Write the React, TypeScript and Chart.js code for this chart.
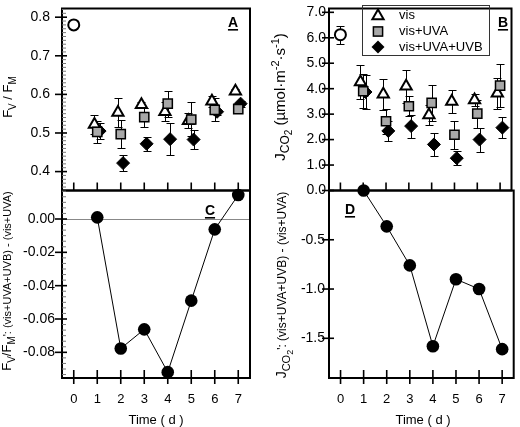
import React, { useEffect, useRef } from "react";
import { Chart, registerables } from "chart.js";

Chart.register(...registerables);

const W = 520;
const H = 427;
const FONT = "'Liberation Sans', Arial, Helvetica, sans-serif";

// ---------- data ----------
const days = [1, 2, 3, 4, 5, 6, 7];
const controlDay = [0];
const tickDays = [0, 1, 2, 3, 4, 5, 6, 7];
const VIS_SHIFT = -0.12;
const UVA_SHIFT = 0;
const UVB_SHIFT = 0.1;

const fvfmControl = [0.78];
const fvfmVis = [0.522, 0.553, 0.573, 0.555, 0.532, 0.582, 0.608];
const fvfmVisErr = [0.025, 0.038, 0.008, 0.025, 0.02, 0.015, 0.006];
const fvfmUva = [0.503, 0.497, 0.541, 0.576, 0.535, 0.56, 0.562];
const fvfmUvaErr = [0.028, 0.036, 0.025, 0.034, 0.044, 0.03, 0.008];
const fvfmUvb = [0.505, 0.422, 0.472, 0.484, 0.483, 0.555, 0.576];
const fvfmUvbErr = [0.02, 0.02, 0.018, 0.042, 0.025, 0.008, 0.008];
const fvfmDiff = [0.001, -0.0777, -0.0662, -0.0919, -0.049, -0.0062, 0.0144];

const jControl = [6.12];
const jControlErr = [0.36];
const jVis = [4.26, 3.78, 4.1, 2.97, 3.5, 3.56, 3.82];
const jVisErr = [0.68, 0.6, 0.65, 0.4, 0.45, 0.25, 0.6];
const jUva = [3.9, 2.72, 3.31, 3.44, 2.19, 3.02, 4.12];
const jUvaErr = [0.67, 0.5, 0.4, 0.72, 0.55, 0.55, 0.85];
const jUvb = [3.87, 2.34, 2.53, 1.81, 1.27, 2.0, 2.47];
const jUvbErr = [0.65, 0.38, 0.45, 0.46, 0.28, 0.47, 0.4];
const jDiff = [0.0, -0.364, -0.76, -1.58, -0.9, -1.0, -1.61];

const fvfmTicks = [0.4, 0.5, 0.6, 0.7, 0.8];
const fvfmDiffTicks = [-0.08, -0.06, -0.04, -0.02, 0.0];
const jTicks = [0, 1, 2, 3, 4, 5, 6, 7];
const jDiffTicks = [-1.5, -1.0, -0.5];

const legendLabels = ["vis", "vis+UVA", "vis+UVA+UVB"];

// ---------- helpers ----------
type Part = { t: string; size: number; dy?: number };
type Title = { parts: Part[]; x: number; y: number };

const pts = (xs: number[], ys: number[], shift = 0) =>
  xs.map((d, i) => ({ x: d + shift, y: ys[i] }));

function drawRich(ctx: CanvasRenderingContext2D, title: Title) {
  ctx.save();
  ctx.translate(title.x, title.y);
  ctx.rotate(-Math.PI / 2);
  ctx.fillStyle = "#000";
  ctx.textBaseline = "alphabetic";
  ctx.textAlign = "left";
  let total = 0;
  const ws = title.parts.map((p) => {
    ctx.font = `${p.size}px ${FONT}`;
    const w = ctx.measureText(p.t).width;
    total += w;
    return w;
  });
  let x = -total / 2;
  title.parts.forEach((p, i) => {
    ctx.font = `${p.size}px ${FONT}`;
    ctx.fillText(p.t, x, p.dy || 0);
    x += ws[i];
  });
  ctx.restore();
}

function triPath(ctx: CanvasRenderingContext2D, x: number, y: number, r: number) {
  ctx.beginPath();
  ctx.moveTo(x, y - r);
  ctx.lineTo(x + r * Math.sin((2 * Math.PI) / 3), y - r * Math.cos((2 * Math.PI) / 3));
  ctx.lineTo(x - r * Math.sin((2 * Math.PI) / 3), y - r * Math.cos((2 * Math.PI) / 3));
  ctx.closePath();
}

interface PanelCfg {
  id: string;
  left: number;
  top: number;
  right: number;
  bottom: number;
  yMin: number;
  yMax: number;
  yMajor: number[];
  yDec: number;
  yMinorStep?: number;
  yLabelPad: number;
  showXLabels: boolean;
  xTickUp: number;
  xTickDown: number;
  letter: string;
  letterX: number;
  letterY: number;
  zeroLine?: boolean;
  titles: Title[];
  xTitle?: { x: number; y: number };
  legend?: boolean;
  datasets: any[];
}

function makePlugin(cfg: PanelCfg) {
  return {
    id: "panel_" + cfg.id,
    beforeDatasetsDraw(chart: any) {
      const ctx: CanvasRenderingContext2D = chart.ctx;
      const xs = chart.scales.x;
      const ys = chart.scales.y;
      const a = chart.chartArea;
      ctx.save();
      if (cfg.zeroLine) {
        const y0 = Math.round(ys.getPixelForValue(0)) + 0.5;
        ctx.strokeStyle = "#888";
        ctx.lineWidth = 1;
        ctx.beginPath();
        ctx.moveTo(a.left, y0);
        ctx.lineTo(a.right, y0);
        ctx.stroke();
      }
      ctx.strokeStyle = "#000";
      ctx.lineWidth = 2;
      ctx.strokeRect(a.left, a.top, a.right - a.left, a.bottom - a.top);
      ctx.lineWidth = 1.6;
      cfg.yMajor.forEach((v) => {
        const y = ys.getPixelForValue(v);
        ctx.beginPath();
        ctx.moveTo(a.left - 7, y);
        ctx.lineTo(a.left + 5, y);
        ctx.stroke();
      });
      if (cfg.yMinorStep) {
        ctx.strokeStyle = "#777";
        ctx.lineWidth = 1;
        const step = cfg.yMinorStep;
        const start = Math.ceil(cfg.yMin / step);
        const end = Math.floor(cfg.yMax / step);
        for (let k = start; k <= end; k++) {
          const v = k * step;
          if (cfg.yMajor.some((m) => Math.abs(m - v) < step / 3)) continue;
          const y = ys.getPixelForValue(v);
          ctx.beginPath();
          ctx.moveTo(a.left, y);
          ctx.lineTo(a.left + 4, y);
          ctx.stroke();
        }
      }
      ctx.strokeStyle = "#000";
      ctx.lineWidth = 1.6;
      tickDays.forEach((d) => {
        const x = xs.getPixelForValue(d);
        ctx.beginPath();
        ctx.moveTo(x, a.bottom - cfg.xTickUp);
        ctx.lineTo(x, a.bottom + cfg.xTickDown);
        ctx.stroke();
      });
      ctx.strokeStyle = "#000";
      ctx.lineWidth = 1;
      chart.data.datasets.forEach((ds: any) => {
        const errs: number[] | undefined = ds.errors;
        if (!errs) return;
        ds.data.forEach((p: any, i: number) => {
          const e = errs[i];
          if (!e) return;
          const px = Math.round(xs.getPixelForValue(p.x)) + 0.5;
          const y1 = Math.round(ys.getPixelForValue(p.y + e)) + 0.5;
          const y2 = Math.round(ys.getPixelForValue(p.y - e)) + 0.5;
          ctx.beginPath();
          ctx.moveTo(px, y1);
          ctx.lineTo(px, y2);
          ctx.moveTo(px - 4, y1);
          ctx.lineTo(px + 4, y1);
          ctx.moveTo(px - 4, y2);
          ctx.lineTo(px + 4, y2);
          ctx.stroke();
        });
      });
      ctx.restore();
    },
    afterDraw(chart: any) {
      const ctx: CanvasRenderingContext2D = chart.ctx;
      ctx.save();
      ctx.font = `bold 14px ${FONT}`;
      ctx.fillStyle = "#000";
      ctx.textAlign = "center";
      ctx.textBaseline = "alphabetic";
      ctx.fillText(cfg.letter, cfg.letterX, cfg.letterY);
      const lw = ctx.measureText(cfg.letter).width;
      ctx.fillRect(cfg.letterX - lw / 2, cfg.letterY + 2, lw, 1.6);
      cfg.titles.forEach((t) => drawRich(ctx, t));
      if (cfg.xTitle) {
        ctx.font = `13px ${FONT}`;
        ctx.textAlign = "center";
        ctx.textBaseline = "middle";
        ctx.fillText("Time ( d )", cfg.xTitle.x, cfg.xTitle.y);
      }
      if (cfg.legend) {
        ctx.strokeStyle = "#333";
        ctx.lineWidth = 1;
        ctx.strokeRect(362.5, 5.5, 127, 50);
        const mx = 378;
        const rows = [16, 31.5, 47];
        triPath(ctx, mx, rows[0], 6.5);
        ctx.fillStyle = "#fff";
        ctx.fill();
        ctx.lineWidth = 2;
        ctx.strokeStyle = "#000";
        ctx.stroke();
        const s = 6.5 * Math.SQRT1_2;
        ctx.fillStyle = "#a8a8a8";
        ctx.fillRect(mx - s, rows[1] - s, 2 * s, 2 * s);
        ctx.lineWidth = 1.5;
        ctx.strokeRect(mx - s, rows[1] - s, 2 * s, 2 * s);
        ctx.beginPath();
        ctx.moveTo(mx - 6.5, rows[2]);
        ctx.lineTo(mx, rows[2] - 6.5);
        ctx.lineTo(mx + 6.5, rows[2]);
        ctx.lineTo(mx, rows[2] + 6.5);
        ctx.closePath();
        ctx.fillStyle = "#000";
        ctx.fill();
        ctx.font = `13px ${FONT}`;
        ctx.textAlign = "left";
        ctx.textBaseline = "middle";
        const textRows = [15.5, 31.5, 47];
        legendLabels.forEach((l, i) => ctx.fillText(l, 399, textRows[i]));
      }
      ctx.restore();
    },
  };
}

function buildConfig(cfg: PanelCfg): any {
  const Wy = 50;
  const Hx = 40;
  const zeroPad = (s: any) => {
    s.paddingLeft = 0;
    s.paddingRight = 0;
    s.paddingTop = 0;
    s.paddingBottom = 0;
  };
  return {
    type: "scatter",
    data: { datasets: cfg.datasets },
    options: {
      responsive: false,
      animation: false,
      devicePixelRatio: 1,
      events: [],
      layout: {
        padding: {
          left: cfg.left - Wy,
          top: cfg.top,
          right: W - cfg.right,
          bottom: H - cfg.bottom - Hx,
        },
      },
      plugins: { legend: { display: false }, tooltip: { enabled: false } },
      scales: {
        x: {
          type: "linear",
          position: "bottom",
          min: -0.5,
          max: 7.5,
          grid: { display: false, drawTicks: false },
          border: { display: false },
          ticks: {
            display: cfg.showXLabels,
            padding: 14,
            color: "#000",
            font: { family: FONT, size: 13 },
            autoSkip: false,
            maxRotation: 0,
            callback: (v: any) => String(v),
          },
          afterBuildTicks: (s: any) => {
            s.ticks = tickDays.map((v) => ({ value: v }));
          },
          afterFit: (s: any) => {
            s.height = Hx;
            zeroPad(s);
          },
        },
        y: {
          type: "linear",
          position: "left",
          min: cfg.yMin,
          max: cfg.yMax,
          grid: { display: false, drawTicks: false },
          border: { display: false },
          ticks: {
            padding: cfg.yLabelPad,
            color: "#000",
            font: { family: FONT, size: 14 },
            callback: (v: any) => Number(v).toFixed(cfg.yDec),
          },
          afterBuildTicks: (s: any) => {
            s.ticks = cfg.yMajor.map((v) => ({ value: v }));
          },
          afterFit: (s: any) => {
            s.width = Wy;
            zeroPad(s);
          },
        },
      },
    },
    plugins: [makePlugin(cfg)],
  };
}

function Panel({ cfg }: { cfg: PanelCfg }) {
  const ref = useRef<HTMLCanvasElement>(null);
  useEffect(() => {
    const chart = new Chart(ref.current as HTMLCanvasElement, buildConfig(cfg));
    return () => chart.destroy();
  }, []);
  return (
    <canvas
      ref={ref}
      width={W}
      height={H}
      style={{ position: "absolute", left: 0, top: 0, width: W, height: H }}
    />
  );
}

// ---------- dataset builders ----------
const controlSet = (ys: number[], errs?: number[]) => ({
  label: "control",
  data: pts(controlDay, ys),
  errors: errs,
  pointStyle: "circle",
  pointRadius: 5.5,
  pointBackgroundColor: "#fff",
  pointBorderColor: "#000",
  pointBorderWidth: 2,
  showLine: false,
  clip: false,
  order: 3,
});
const visSet = (ys: number[], errs: number[]) => ({
  label: legendLabels[0],
  data: pts(days, ys, VIS_SHIFT),
  errors: errs,
  pointStyle: "triangle",
  pointRadius: 6.5,
  pointBackgroundColor: "#fff",
  pointBorderColor: "#000",
  pointBorderWidth: 2,
  showLine: false,
  clip: false,
  order: 1,
});
const uvaSet = (ys: number[], errs: number[]) => ({
  label: legendLabels[1],
  data: pts(days, ys, UVA_SHIFT),
  errors: errs,
  pointStyle: "rect",
  pointRadius: 6.5,
  pointBackgroundColor: "#a8a8a8",
  pointBorderColor: "#000",
  pointBorderWidth: 1.5,
  showLine: false,
  clip: false,
  order: 0,
});
const uvbSet = (ys: number[], errs: number[]) => ({
  label: legendLabels[2],
  data: pts(days, ys, UVB_SHIFT),
  errors: errs,
  pointStyle: "rectRot",
  pointRadius: 6.5,
  pointBackgroundColor: "#000",
  pointBorderColor: "#000",
  pointBorderWidth: 1,
  showLine: false,
  clip: false,
  order: 2,
});
const diffSet = (ys: number[]) => ({
  label: "difference",
  data: pts(days, ys),
  pointStyle: "circle",
  pointRadius: 6.3,
  pointBackgroundColor: "#000",
  pointBorderColor: "#000",
  pointBorderWidth: 0,
  showLine: true,
  borderColor: "#000",
  borderWidth: 1,
  clip: false,
});

const TOP = 3;
const MID = 190.5;
const BOT = 378;

const panels: PanelCfg[] = [
  {
    id: "A",
    left: 62,
    top: TOP,
    right: 250,
    bottom: MID,
    yMin: 0.351,
    yMax: 0.8225,
    yMajor: fvfmTicks,
    yDec: 1,
    yMinorStep: 0.01,
    yLabelPad: 12,
    showXLabels: false,
    xTickUp: 8,
    xTickDown: 0,
    letter: "A",
    letterX: 233,
    letterY: 27,
    titles: [
      {
        x: 12,
        y: 97,
        parts: [
          { t: "F", size: 13 },
          { t: "V", size: 10, dy: 4 },
          { t: " / F", size: 13 },
          { t: "M", size: 10, dy: 4 },
        ],
      },
    ],
    datasets: [
      controlSet(fvfmControl),
      visSet(fvfmVis, fvfmVisErr),
      uvaSet(fvfmUva, fvfmUvaErr),
      uvbSet(fvfmUvb, fvfmUvbErr),
    ],
  },
  {
    id: "B",
    left: 329,
    top: TOP,
    right: 517,
    bottom: MID,
    yMin: 0,
    yMax: 7.15,
    yMajor: jTicks,
    yDec: 1,
    yLabelPad: 3,
    showXLabels: false,
    xTickUp: 8,
    xTickDown: 0,
    letter: "B",
    letterX: 503,
    letterY: 27,
    legend: true,
    titles: [
      {
        x: 285,
        y: 97,
        parts: [
          { t: "J", size: 15 },
          { t: "CO", size: 12, dy: 4 },
          { t: "2", size: 10, dy: 7 },
          { t: " (µmol·m", size: 15 },
          { t: "-2", size: 11, dy: -6 },
          { t: "·s", size: 15 },
          { t: "-1", size: 11, dy: -6 },
          { t: ")", size: 15 },
        ],
      },
    ],
    datasets: [
      controlSet(jControl, jControlErr),
      visSet(jVis, jVisErr),
      uvaSet(jUva, jUvaErr),
      uvbSet(jUvb, jUvbErr),
    ],
  },
  {
    id: "C",
    left: 62,
    top: MID,
    right: 250,
    bottom: BOT,
    yMin: -0.0954,
    yMax: 0.0171,
    yMajor: fvfmDiffTicks,
    yDec: 2,
    yMinorStep: 0.02 / 6,
    yLabelPad: 7,
    showXLabels: true,
    xTickUp: 8,
    xTickDown: 6,
    letter: "C",
    letterX: 210,
    letterY: 215,
    zeroLine: true,
    xTitle: { x: 156, y: 420 },
    titles: [
      {
        x: 11,
        y: 281,
        parts: [
          { t: "F", size: 13 },
          { t: "V", size: 10, dy: 4 },
          { t: "/F", size: 13 },
          { t: "M", size: 10, dy: 4 },
          { t: "': (vis+UVA+UVB) - (vis+UVA)", size: 11 },
        ],
      },
    ],
    datasets: [diffSet(fvfmDiff)],
  },
  {
    id: "D",
    left: 329,
    top: MID,
    right: 517,
    bottom: BOT,
    yMin: -1.903,
    yMax: 0,
    yMajor: jDiffTicks,
    yDec: 1,
    yLabelPad: 4,
    showXLabels: true,
    xTickUp: 8,
    xTickDown: 6,
    letter: "D",
    letterX: 350,
    letterY: 214,
    xTitle: { x: 423, y: 420 },
    titles: [
      {
        x: 286,
        y: 285,
        parts: [
          { t: "J", size: 14 },
          { t: "CO", size: 11, dy: 4 },
          { t: "2", size: 9, dy: 7 },
          { t: "': (vis+UVA+UVB) - (vis+UVA)", size: 12 },
        ],
      },
    ],
    datasets: [diffSet(jDiff)],
  },
];

export default function App() {
  return (
    <div
      style={{
        position: "absolute",
        left: 0,
        top: 0,
        width: W,
        height: H,
        background: "#fff",
        overflow: "hidden",
      }}
    >
      {panels.map((p) => (
        <Panel key={p.id} cfg={p} />
      ))}
    </div>
  );
}
